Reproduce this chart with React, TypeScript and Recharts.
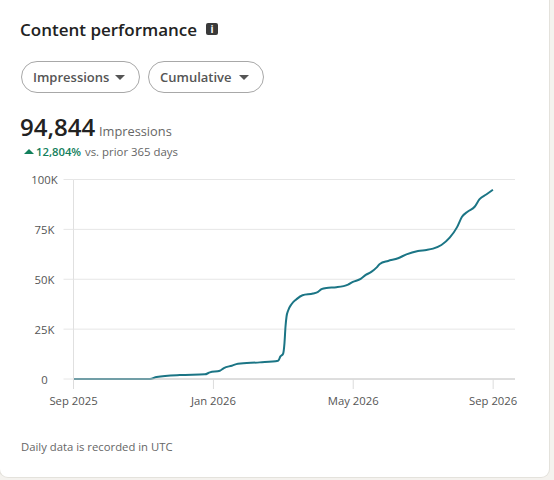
import React from 'react';
import { LineChart, Line, XAxis, YAxis, CartesianGrid } from 'recharts';

const dayOffsets = [0, 66.5, 72.3, 92.5, 114.3, 118.6, 127.3, 130.8, 137.7, 143, 162, 178, 180, 182.3, 183.5, 184.4, 185.3, 186.7, 189.6, 194, 199.2, 208.4, 212.7, 215.7, 220, 228.7, 238.8, 243, 249.8, 254.2, 259, 263.5, 266.4, 273.6, 282.3, 289.6, 299.6, 307, 312.7, 320, 327.2, 333.5, 337.9, 343, 348.9, 353.2, 359, 364.8];
const impressions = [0, 0, 1000, 2000, 2333, 3333, 4167, 5500, 6667, 7667, 8333, 9167, 11333, 12667, 18000, 26333, 31333, 34333, 37500, 40000, 42000, 42833, 43667, 45000, 45667, 46000, 47333, 48667, 50167, 52167, 53667, 55833, 57667, 59167, 60500, 62500, 64167, 64667, 65333, 67167, 70833, 76000, 81333, 84000, 86333, 90167, 92500, 94844];
const yTicks = [0, 25000, 50000, 75000, 100000];
const yTickLabels = ['0', '25K', '50K', '75K', '100K'];
const xTicks = [0, 121.7, 243.3, 365];
const xTickLabels = ['Sep 2025', 'Jan 2026', 'May 2026', 'Sep 2026'];

const chartData = dayOffsets.map((day, i) => ({ day, value: impressions[i] }));

const FONT = '"Open Sans", "Noto Sans", sans-serif';

function Caret({ left, top, color = '#444', w = 12, h = 6, up = false }: any) {
  return (
    <div style={{
      position: 'absolute', left, top, width: 0, height: 0,
      borderLeft: `${w / 2}px solid transparent`, borderRight: `${w / 2}px solid transparent`,
      ...(up ? { borderBottom: `${h}px solid ${color}` } : { borderTop: `${h}px solid ${color}` }),
    }} />
  );
}

function Pill({ left, width, label }: any) {
  return (
    <div style={{
      position: 'absolute', left, top: 61, width, height: 32, boxSizing: 'border-box',
      border: '1px solid #a8a8a8', borderRadius: 16,
    }}>
      <span style={{ position: 'absolute', left: 11, top: 6, fontSize: 13, fontWeight: 600, color: '#555', whiteSpace: 'nowrap' }}>{label}</span>
      <Caret left={width - 26} top={13} color="#555" w={11} h={5} />
    </div>
  );
}

const YTick = ({ y, payload }: any) => (
  <text x={44.5} y={y + 4.5} textAnchor="middle" fontSize={11.3} fill="#555" fontFamily={FONT}>
    {yTickLabels[yTicks.indexOf(payload.value)]}
  </text>
);

const XTick = ({ x, y, payload }: any) => (
  <text x={x} y={y + 14} textAnchor="middle" fontSize={11.3} fill="#555" fontFamily={FONT}>
    {xTickLabels[xTicks.indexOf(payload.value)]}
  </text>
);

export default function App() {
  return (
    <div style={{ position: 'fixed', left: 0, top: 0, width: 554, height: 480, background: '#f4f2ee', overflow: 'hidden', fontFamily: FONT }}>
      <div style={{
        position: 'absolute', left: 0, top: -20, width: 549, height: 497, background: '#fff',
        borderRadius: 8, boxShadow: '0 0 0 1px #e4e2dc',
      }} />

      <div style={{ position: 'absolute', left: 20, top: 18, fontSize: 17, fontWeight: 600, color: '#222', whiteSpace: 'nowrap' }}>Content performance</div>
      <div style={{
        position: 'absolute', left: 206, top: 23, width: 12, height: 12, borderRadius: 2, background: '#3a3a3a',
        color: '#fff', fontSize: 10, fontWeight: 700, lineHeight: '12px', textAlign: 'center',
      }}>i</div>

      <Pill left={21} width={119} label="Impressions" />
      <Pill left={148} width={116} label="Cumulative" />

      <div style={{ position: 'absolute', left: 20, top: 110, fontSize: 24, fontWeight: 600, color: '#222', whiteSpace: 'nowrap' }}>94,844</div>
      <div style={{ position: 'absolute', left: 99, top: 122, fontSize: 12.8, color: '#666', whiteSpace: 'nowrap' }}>Impressions</div>
      <Caret left={24} top={149} color="#12805c" w={10} h={5} up />
      <div style={{ position: 'absolute', left: 36, top: 144, fontSize: 11.3, fontWeight: 600, color: '#12805c', whiteSpace: 'nowrap' }}>12,804%</div>
      <div style={{ position: 'absolute', left: 85, top: 144, fontSize: 11.4, color: '#666', whiteSpace: 'nowrap' }}>vs. prior 365 days</div>

      <div style={{ position: 'absolute', left: 0, top: 160 }}>
        <LineChart width={554} height={260} data={chartData} margin={{ top: 19.5, right: 39, bottom: 11, left: 0 }}>
          <CartesianGrid vertical={false} stroke="#e6e6e6" strokeWidth={1} />
          <XAxis
            dataKey="day"
            type="number"
            domain={[0, 384]}
            ticks={xTicks}
            tick={<XTick />}
            tickSize={10}
            interval={0}
            stroke="#c8c8c8"
            tickLine={{ stroke: '#dcdcdc' }}
          />
          <YAxis
            domain={[0, 100000]}
            ticks={yTicks}
            width={73.5}
            tick={<YTick />}
            tickSize={10}
            interval={0}
            stroke="#e0e0e0"
            tickLine={{ stroke: '#e6e6e6' }}
          />
          <Line type="monotone" dataKey="value" stroke="#1b7585" strokeWidth={2} dot={false} isAnimationActive={false} />
        </LineChart>
      </div>

      <div style={{ position: 'absolute', left: 21, top: 439, fontSize: 11.3, color: '#666', whiteSpace: 'nowrap' }}>Daily data is recorded in UTC</div>
    </div>
  );
}
